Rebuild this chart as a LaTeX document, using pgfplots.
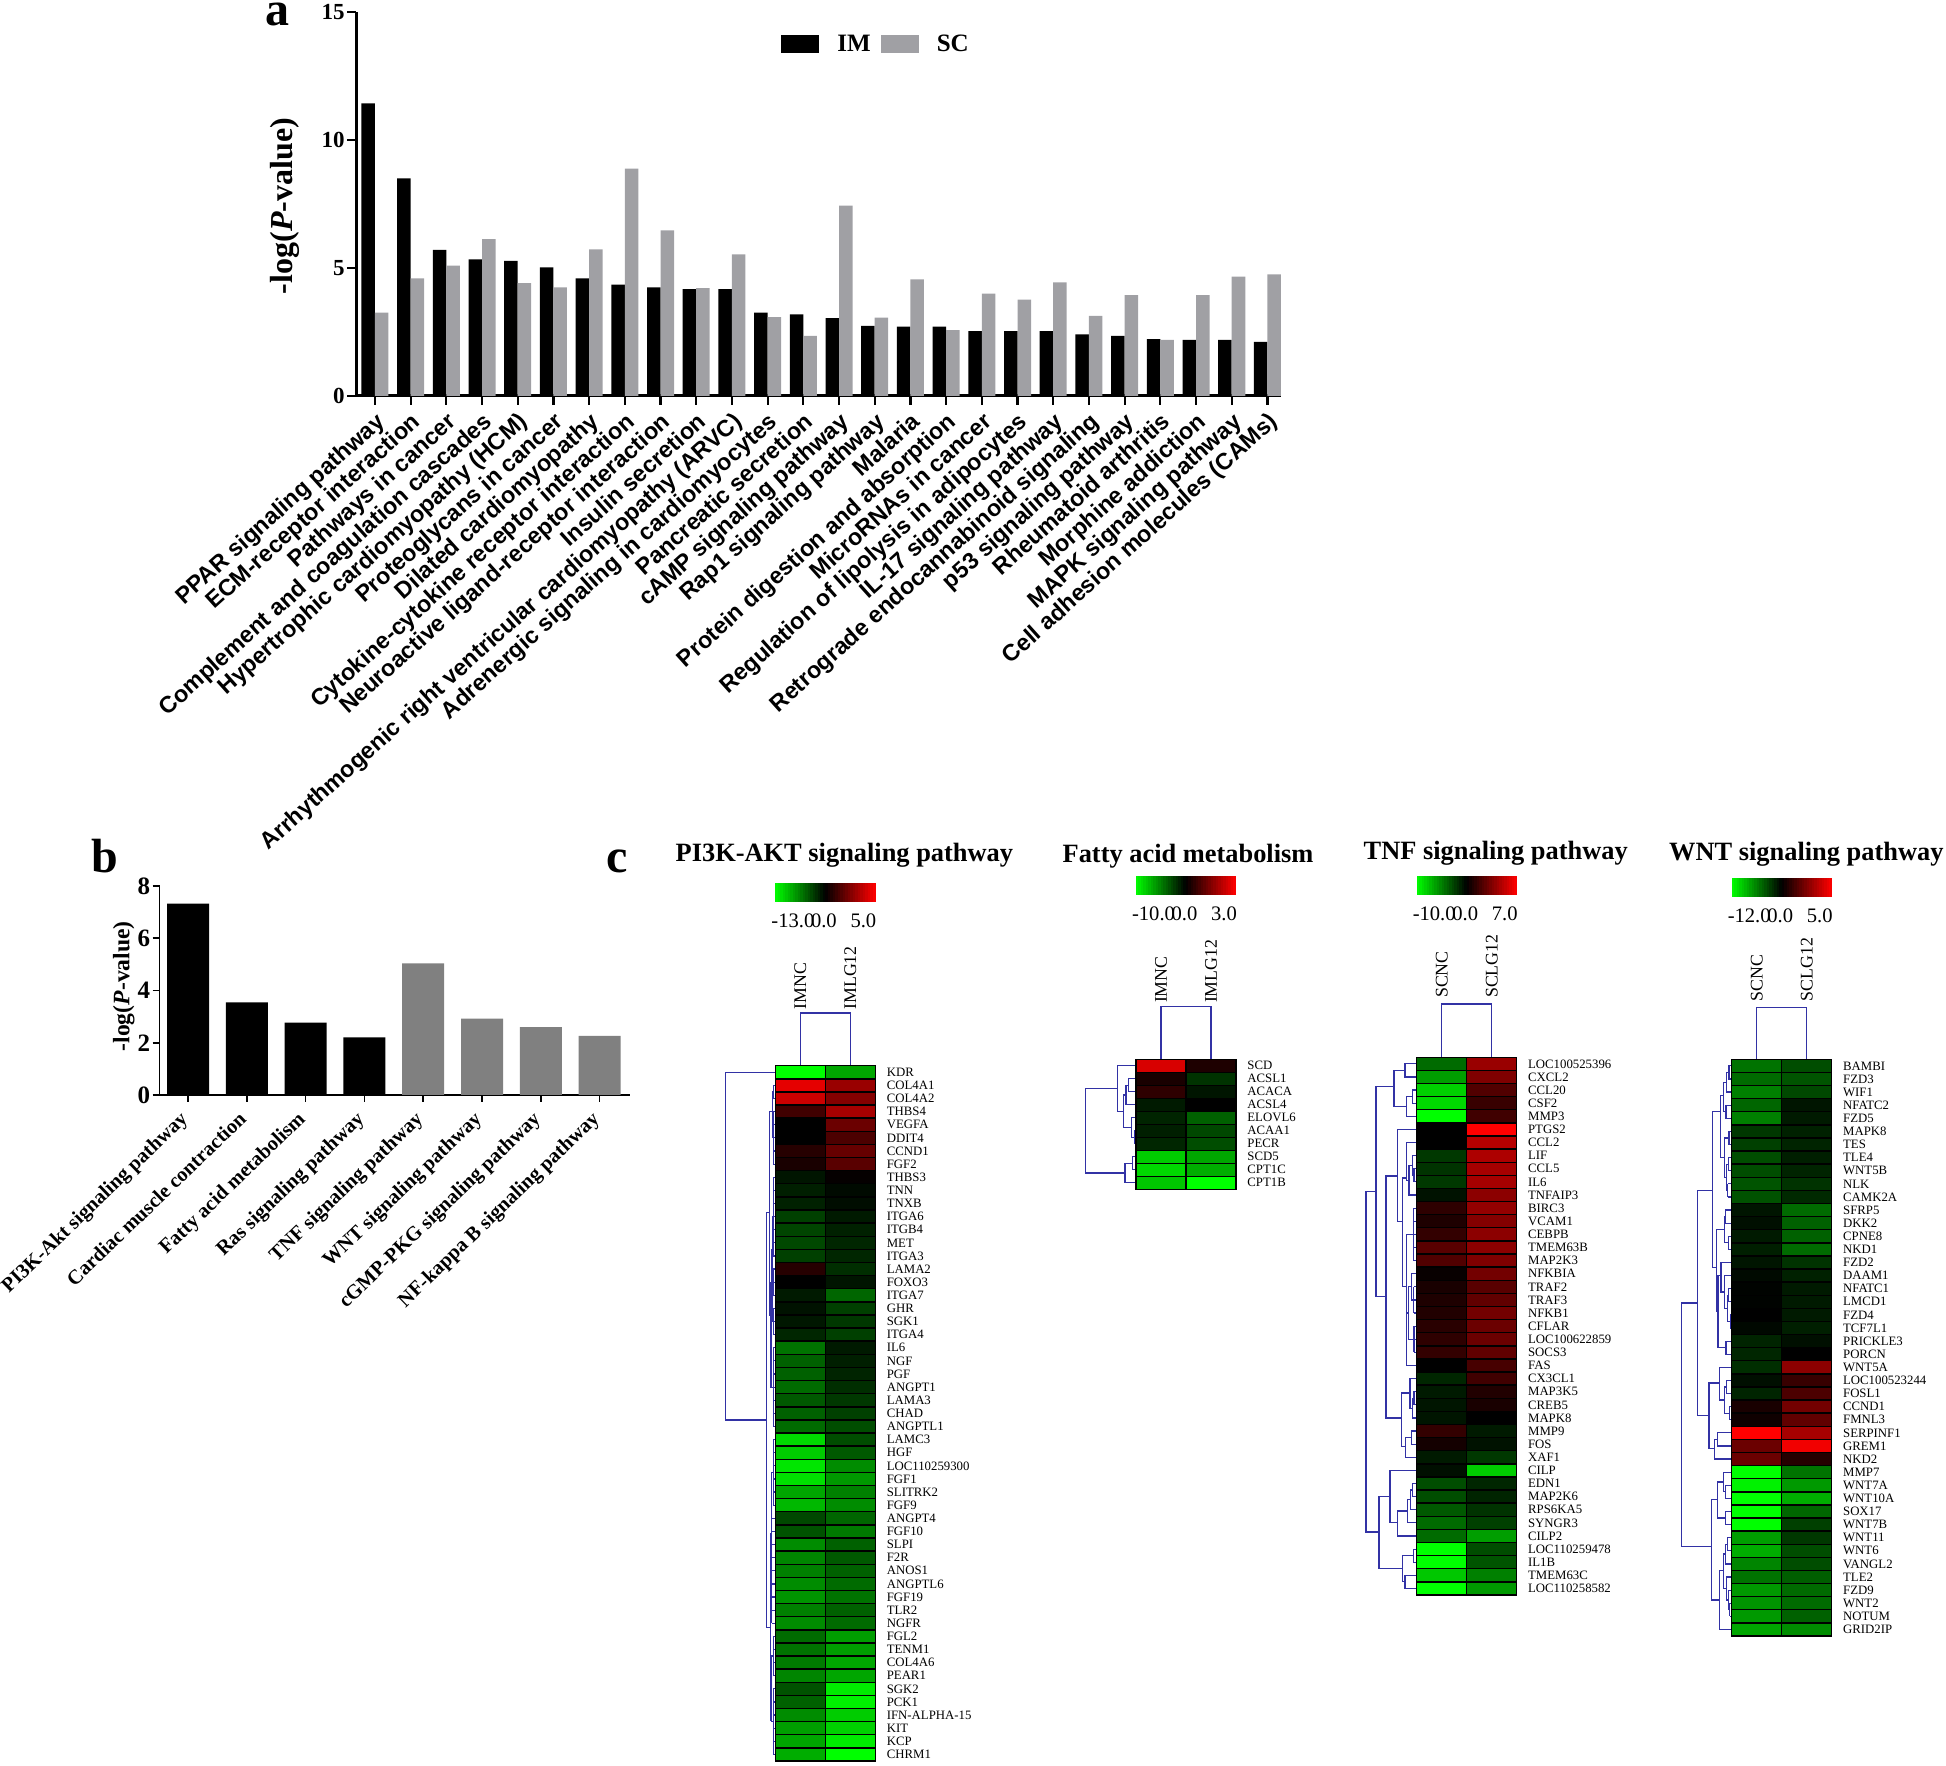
\documentclass[border=0pt]{standalone}
\usepackage{pgfplots}
\pgfplotsset{compat=1.18}
\usepackage{fontspec}
\setmainfont{Liberation Serif}
\newfontfamily\arial{Liberation Sans}
\newcommand\fs[1]{\fontsize{#1}{#1}\selectfont}
\definecolor{den}{RGB}{50,50,165}
\definecolor{barg}{RGB}{160,160,164}
\definecolor{bargb}{RGB}{128,128,128}
\pgfdeclareplotmark{cell}{\pgfpathrectangle{\pgfpoint{-12.5pt}{-3.275pt}}{\pgfpoint{25pt}{6.55pt}}\pgfusepathqfillstroke}
\pgfdeclareplotmark{rampcell}{\pgfpathrectangle{\pgfpoint{-0.72pt}{-4.8pt}}{\pgfpoint{1.44pt}{9.6pt}}\pgfusepathqfill}
\tikzset{
  collab/.style={rotate=90,anchor=west,font=\fs{8.9},inner sep=0pt},
  htitle/.style={font=\bfseries\fs{13.2},inner sep=0pt,yshift=-1.2pt},
}
\pgfplotsset{
  colormap={gkr}{rgb=(0,1,0) rgb=(0,0,0) rgb=(1,0,0)},
  dendro/.style={color=den,line width=0.6pt,forget plot,no markers},
  lg/.style={legend image code/.code={\fill[##1] (0pt,-4.5pt) rectangle (19pt,4.5pt);\fill[white,draw=none,opacity=0] (19pt,0pt) rectangle (26pt,0.1pt);}},
  heat/.style={
    scale only axis,anchor=south west,clip=false,y dir=reverse,
    xmin=0,xmax=100,width=50pt,
    colormap name=gkr,point meta min=-1,point meta max=1,
    axis line style={draw=none},tick style={draw=none},
    xtick=\empty,yticklabel pos=right,
    yticklabel style={font=\fs{6.4},anchor=west,xshift=5.5pt,inner sep=0pt},
  },
  heatcells/.style={only marks,scatter,mark=cell,point meta=explicit,
    scatter/use mapped color={draw=black,fill=mapped color},
    mark options={line width=0.7pt},forget plot},
}
\newcommand\U[5]{\addplot[dendro] coordinates {(-#1,#3)(-#2,#3)(-#2,#4)(-#5,#4)};}
\newcommand\R[3]{\addplot[dendro] coordinates {(-#1,#2)(-#1,#3)};%
  \pgfplotsinvokeforeach{#2,...,#3}{\addplot[dendro] coordinates {(0,##1)(-#1,##1)};}}
\newcommand\cb[3]{%
\begin{axis}[at={(#1pt,#2pt)},anchor=south west,scale only axis,width=50pt,height=9.6pt,
  xmin=-1,xmax=1,ymin=-1,ymax=1,clip=false,colormap name=gkr,point meta min=-1,point meta max=1,
  axis line style={draw=none},tick style={draw=none},ytick=\empty,
  xtick={-0.65,-0.03,0.76},xticklabels=#3,
  xticklabel style={font=\fs{10.3},inner sep=1pt,yshift=-4.5pt}]
\addplot[only marks,scatter,mark=rampcell,point meta=x,forget plot,
  scatter/use mapped color={draw=none,fill=mapped color}] coordinates {
(-0.975,0)(-0.925,0)(-0.875,0)(-0.825,0)(-0.775,0)(-0.725,0)(-0.675,0)(-0.625,0)(-0.575,0)(-0.525,0)
(-0.475,0)(-0.425,0)(-0.375,0)(-0.325,0)(-0.275,0)(-0.225,0)(-0.175,0)(-0.125,0)(-0.075,0)(-0.025,0)
(0.025,0)(0.075,0)(0.125,0)(0.175,0)(0.225,0)(0.275,0)(0.325,0)(0.375,0)(0.425,0)(0.475,0)
(0.525,0)(0.575,0)(0.625,0)(0.675,0)(0.725,0)(0.775,0)(0.825,0)(0.875,0)(0.925,0)(0.975,0)};
\end{axis}}
\begin{document}
\begin{tikzpicture}
\useasboundingbox (0pt,0pt) rectangle (973pt,882.5pt);
% panel letters
\node[anchor=base west,inner sep=0pt,font=\bfseries\fs{24}] at (132.5pt,869.5pt) {a};
\node[anchor=base west,inner sep=0pt,font=\bfseries\fs{24}] at (45.5pt,446pt) {b};
\node[anchor=base west,inner sep=0pt,font=\bfseries\fs{24}] at (303pt,446pt) {c};
% panel a
\begin{axis}[
  at={(178pt,684.5pt)},anchor=south west,scale only axis,width=462.5pt,height=191.8pt,
  ybar=0pt,bar width=6.75pt,clip=false,
  xmin=-0.53,xmax=25.38,ymin=0,ymax=15,
  axis x line=bottom,axis y line=left,
  axis line style={line width=1.5pt,-},
  x axis line style={-},y axis line style={-},
  tick style={black,line width=1.1pt},
  major tick length=4.5pt,tick align=outside,
  ytick={0,5,10,15},xtick={0,...,25},
  /pgf/number format/assume math mode=true,
  yticklabel style={font=\bfseries\fs{11.5},inner sep=1pt},
  xticklabels={PPAR signaling pathway,ECM-receptor interaction,Pathways in cancer,Complement and coagulation cascades,Hypertrophic cardiomyopathy (HCM),Proteoglycans in cancer,Dilated cardiomyopathy,Cytokine-cytokine receptor interaction,Neuroactive ligand-receptor interaction,Insulin secretion,Arrhythmogenic right ventricular cardiomyopathy (ARVC),Adrenergic signaling in cardiomyocytes,Pancreatic secretion,cAMP signaling pathway,Rap1 signaling pathway,Malaria,Protein digestion and absorption,MicroRNAs in cancer,Regulation of lipolysis in adipocytes,IL-17 signaling pathway,Retrograde endocannabinoid signaling,p53 signaling pathway,Rheumatoid arthritis,Morphine addiction,MAPK signaling pathway,Cell adhesion molecules (CAMs)},
  xticklabel style={font=\arial\bfseries\fs{11.65},rotate=42,anchor=north east,inner sep=1pt,yshift=-1pt,xshift=-1pt},
  ylabel={-log(\textit{P}-value)},
  ylabel style={at={(axis description cs:-0.077,0.495)},anchor=center,rotate=0,font=\bfseries\fs{16},inner sep=0pt},
  legend style={at={(0.4595,0.9165)},anchor=west,draw=none,fill=none,font=\bfseries\fs{12.5},inner sep=0pt,
    /tikz/every even column/.append style={column sep=3pt}},
  legend columns=2,
]
\addplot[fill=black,draw=none,lg] coordinates {(0,11.44)(1,8.51)(2,5.71)(3,5.34)(4,5.28)(5,5.03)(6,4.60)(7,4.35)(8,4.25)(9,4.18)(10,4.18)(11,3.26)(12,3.19)(13,3.04)(14,2.74)(15,2.71)(16,2.71)(17,2.54)(18,2.54)(19,2.54)(20,2.41)(21,2.35)(22,2.22)(23,2.19)(24,2.19)(25,2.12)};
\addplot[fill=barg,draw=none,lg] coordinates {(0,3.26)(1,4.60)(2,5.10)(3,6.13)(4,4.41)(5,4.25)(6,5.73)(7,8.89)(8,6.48)(9,4.22)(10,5.54)(11,3.08)(12,2.35)(13,7.44)(14,3.06)(15,4.56)(16,2.58)(17,4.00)(18,3.77)(19,4.44)(20,3.13)(21,3.94)(22,2.19)(23,3.94)(24,4.67)(25,4.76)};
\legend{IM,SC}
\end{axis}
% panel b
\begin{axis}[
  at={(79.75pt,335pt)},anchor=south west,scale only axis,width=235.25pt,height=104.5pt,
  ybar,bar width=21pt,bar shift=0pt,clip=false,
  xmin=-0.485,xmax=7.517,ymin=0,ymax=8,
  axis x line=bottom,axis y line=left,
  x axis line style={-,line width=0.8pt},y axis line style={-,line width=0.8pt},
  tick style={black,line width=0.8pt},
  major tick length=3.5pt,tick align=outside,
  ytick={0,2,4,6,8},xtick={0,...,7},
  /pgf/number format/assume math mode=true,
  yticklabel style={font=\bfseries\fs{12.5},inner sep=1pt},
  xticklabels={PI3K-Akt signaling pathway,Cardiac muscle contraction,Fatty acid metabolism,Ras signaling pathway,TNF signaling pathway,WNT signaling pathway,cGMP-PKG signaling pathway,NF-kappa B signaling pathway},
  xticklabel style={font=\bfseries\fs{10.2},rotate=44,anchor=north east,inner sep=1pt,yshift=1.5pt,xshift=-5pt},
  ylabel={-log(\textit{P}-value)},
  ylabel style={at={(axis description cs:-0.076,0.52)},anchor=center,font=\bfseries\fs{11.8},inner sep=0pt},
]
\addplot[fill=black,draw=none] coordinates {(0,7.33)(1,3.55)(2,2.77)(3,2.21)};
\addplot[fill=bargb,draw=none] coordinates {(4,5.04)(5,2.92)(6,2.60)(7,2.26)};
\end{axis}
% colour scales
\cb{387.7}{431.5}{{-13.0,0.0,5.0}}
\cb{568}{434.85}{{-10.0,0.0,3.0}}
\cb{708.35}{435}{{-10.0,0.0,7.0}}
\cb{865.85}{433.85}{{-12.0,0.0,5.0}}
% PI3K
\begin{axis}[heat,
  at={(387.7pt,2pt)},height=347.65pt,ymin=-0.5,ymax=52.5,
  ytick={0,...,52},
  yticklabels={KDR,COL4A1,COL4A2,THBS4,VEGFA,DDIT4,CCND1,FGF2,THBS3,TNN,TNXB,ITGA6,ITGB4,MET,ITGA3,LAMA2,FOXO3,ITGA7,GHR,SGK1,ITGA4,IL6,NGF,PGF,ANGPT1,LAMA3,CHAD,ANGPTL1,LAMC3,HGF,LOC110259300,FGF1,SLITRK2,FGF9,ANGPT4,FGF10,SLPI,F2R,ANOS1,ANGPTL6,FGF19,TLR2,NGFR,FGL2,TENM1,COL4A6,PEAR1,SGK2,PCK1,IFN-ALPHA-15,KIT,KCP,CHRM1},
]
\addplot[heatcells] table[row sep=\\,meta index=2]{
25 0 -1\\75 0 -0.65\\25 1 0.9\\75 1 0.6\\25 2 0.8\\75 2 0.52\\25 3 0.25\\75 3 0.65\\25 4 0\\75 4 0.42\\
25 5 0\\75 5 0.3\\25 6 0.15\\75 6 0.4\\25 7 0.1\\75 7 0.35\\25 8 -0.08\\75 8 0.02\\25 9 -0.12\\75 9 -0.04\\
25 10 -0.13\\75 10 -0.05\\25 11 -0.25\\75 11 -0.1\\25 12 -0.27\\75 12 -0.13\\25 13 -0.28\\75 13 -0.15\\25 14 -0.25\\75 14 -0.15\\
25 15 0.15\\75 15 -0.18\\25 16 0\\75 16 -0.08\\25 17 -0.1\\75 17 -0.4\\25 18 -0.07\\75 18 -0.25\\25 19 -0.09\\75 19 -0.22\\
25 20 -0.15\\75 20 -0.25\\25 21 -0.45\\75 21 -0.1\\25 22 -0.38\\75 22 -0.12\\25 23 -0.38\\75 23 -0.14\\25 24 -0.42\\75 24 -0.18\\
25 25 -0.35\\75 25 -0.22\\25 26 -0.38\\75 26 -0.25\\25 27 -0.42\\75 27 -0.3\\25 28 -0.85\\75 28 -0.3\\25 29 -0.8\\75 29 -0.35\\
25 30 -0.9\\75 30 -0.55\\25 31 -0.88\\75 31 -0.6\\25 32 -0.65\\75 32 -0.5\\25 33 -0.72\\75 33 -0.55\\25 34 -0.28\\75 34 -0.4\\
25 35 -0.32\\75 35 -0.48\\25 36 -0.55\\75 36 -0.38\\25 37 -0.52\\75 37 -0.35\\25 38 -0.5\\75 38 -0.38\\25 39 -0.55\\75 39 -0.42\\
25 40 -0.58\\75 40 -0.45\\25 41 -0.5\\75 41 -0.38\\25 42 -0.55\\75 42 -0.42\\25 43 -0.42\\75 43 -0.62\\25 44 -0.45\\75 44 -0.62\\
25 45 -0.48\\75 45 -0.65\\25 46 -0.52\\75 46 -0.65\\25 47 -0.32\\75 47 -0.92\\25 48 -0.38\\75 48 -0.95\\25 49 -0.55\\75 49 -0.8\\
25 50 -0.62\\75 50 -0.82\\25 51 -0.65\\75 51 -0.92\\25 52 -0.68\\75 52 -1\\
};
\addplot[dendro] coordinates {(25,-0.5)(25,-4.52)(75,-4.52)(75,-0.5)};
\node[collab] at (axis cs:25,-4.75) {IMNC};
\node[collab] at (axis cs:75,-4.75) {IMLG12};
\node[htitle] at (axis cs:69,-16.76) {PI3K-AKT signaling pathway};
\U{0}{50}{0}{26.5}{8.7}
\U{6}{8.7}{10.7}{42.3}{4.7}
\R{2}{1}{2}\R{2}{3}{7}\U{2}{3}{1.5}{5}{2}
\R{2}{8}{14}\R{2}{15}{17}\R{2}{18}{20}\R{2}{21}{27}
\U{2}{3}{11}{16}{2}\U{3}{3.5}{13.5}{19}{2}\U{3.5}{4.5}{16}{24}{2}
\U{3}{6}{3}{18.5}{4.5}
\R{2}{28}{33}\R{3.7}{34}{42}
\U{2}{3.7}{30.5}{38}{3.7}
\R{2}{43}{46}\R{2}{47}{52}\U{2}{4}{44.5}{49.5}{2}
\U{3.7}{4.7}{35.2}{49.4}{4}
\end{axis}
% Fatty acid
\begin{axis}[heat,
  at={(568pt,287.85pt)},height=65pt,ymin=-0.5,ymax=9.5,
  ytick={0,...,9},
  yticklabels={SCD,ACSL1,ACACA,ACSL4,ELOVL6,ACAA1,PECR,SCD5,CPT1C,CPT1B},
]
\addplot[heatcells] table[row sep=\\,meta index=2]{
25 0 0.85\\75 0 0.12\\25 1 0.1\\75 1 -0.2\\25 2 0.18\\75 2 -0.08\\25 3 -0.1\\75 3 0\\25 4 -0.14\\75 4 -0.38\\
25 5 -0.12\\75 5 -0.28\\25 6 -0.15\\75 6 -0.3\\25 7 -0.8\\75 7 -0.65\\25 8 -0.85\\75 8 -0.68\\25 9 -0.78\\75 9 -1\\
};
\addplot[dendro] coordinates {(25,-0.5)(25,-4.55)(75,-4.55)(75,-0.5)};
\node[collab] at (axis cs:25,-4.8) {IMNC};
\node[collab] at (axis cs:75,-4.8) {IMLG12};
\node[htitle] at (axis cs:52,-16.29) {Fatty acid metabolism};
\U{0}{7.7}{1}{2}{0}\U{7.7}{10}{1.5}{3}{0}\U{0}{1.7}{5}{6}{0}\U{0}{4.3}{4}{5.5}{1.7}
\U{10}{12.7}{2.25}{4.75}{4.3}\U{0}{18.7}{0}{3.5}{12.7}
\U{0}{3.7}{7}{8}{0}\U{3.7}{11}{7.5}{9}{0}\U{18.7}{50.3}{1.75}{8.25}{11}
\end{axis}
% TNF
\begin{axis}[heat,
  at={(708.35pt,85pt)},height=268.85pt,ymin=-0.5,ymax=40.5,
  ytick={0,...,40},
  yticklabels={LOC100525396,CXCL2,CCL20,CSF2,MMP3,PTGS2,CCL2,LIF,CCL5,IL6,TNFAIP3,BIRC3,VCAM1,CEBPB,TMEM63B,MAP2K3,NFKBIA,TRAF2,TRAF3,NFKB1,CFLAR,LOC100622859,SOCS3,FAS,CX3CL1,MAP3K5,CREB5,MAPK8,MMP9,FOS,XAF1,CILP,EDN1,MAP2K6,RPS6KA5,SYNGR3,CILP2,LOC110259478,IL1B,TMEM63C,LOC110258582},
]
\addplot[heatcells] table[row sep=\\,meta index=2]{
25 0 -0.42\\75 0 0.6\\25 1 -0.62\\75 1 0.5\\25 2 -0.82\\75 2 0.32\\25 3 -0.85\\75 3 0.22\\25 4 -1\\75 4 0.25\\
25 5 0\\75 5 1\\25 6 0\\75 6 0.72\\25 7 -0.22\\75 7 0.68\\25 8 -0.2\\75 8 0.65\\25 9 -0.22\\75 9 0.65\\
25 10 -0.07\\75 10 0.55\\25 11 0.18\\75 11 0.58\\25 12 0.12\\75 12 0.52\\25 13 0.2\\75 13 0.55\\25 14 0.35\\75 14 0.55\\
25 15 0.32\\75 15 0.5\\25 16 0.03\\75 16 0.45\\25 17 0.1\\75 17 0.35\\25 18 0.12\\75 18 0.38\\25 19 0.13\\75 19 0.45\\
25 20 0.16\\75 20 0.42\\25 21 0.18\\75 21 0.42\\25 22 0.2\\75 22 0.38\\25 23 0\\75 23 0.28\\25 24 -0.15\\75 24 0.25\\
25 25 -0.1\\75 25 0.13\\25 26 -0.08\\75 26 0.1\\25 27 -0.08\\75 27 0\\25 28 0.2\\75 28 -0.1\\25 29 0.08\\75 29 -0.07\\
25 30 -0.1\\75 30 -0.22\\25 31 -0.06\\75 31 -0.8\\25 32 -0.3\\75 32 -0.15\\25 33 -0.3\\75 33 -0.14\\25 34 -0.35\\75 34 -0.2\\
25 35 -0.42\\75 35 -0.25\\25 36 -0.42\\75 36 -0.62\\25 37 -1\\75 37 -0.3\\25 38 -1\\75 38 -0.33\\25 39 -0.78\\75 39 -0.5\\
25 40 -1\\75 40 -0.6\\
};
\addplot[dendro] coordinates {(25,-0.5)(25,-4.57)(75,-4.57)(75,-0.5)};
\node[collab] at (axis cs:25,-5) {SCNC};
\node[collab] at (axis cs:75,-5) {SCLG12};
\node[htitle] at (axis cs:79,-16.27) {TNF signaling pathway};
\U{40.7}{50.7}{9.75}{35.7}{37.7}
\U{22.7}{40.7}{1.75}{17.75}{30.7}
\U{0}{11.7}{0}{1}{0}\U{0}{4}{2}{3}{0}\U{4}{10}{2.5}{4}{0}\U{11.7}{22.7}{0.5}{3.25}{10}
\U{19.3}{30.7}{8.55}{27}{15}
\U{0}{19.3}{5}{12}{14.3}
\U{0}{2.7}{8}{9}{0}\U{0}{4}{7}{8.5}{2.7}\U{4}{7.7}{7.75}{10}{0}\U{0}{10}{6}{8.9}{7.7}
\R{3}{11}{15}\R{3}{17}{19}\U{0}{5}{16}{18}{3}\R{2.7}{20}{22}\U{5}{8}{17}{21}{2.7}\U{8}{10}{19}{23}{0}
\U{3}{10}{13}{21}{10}\U{10}{14.3}{8.7}{17}{10}
\U{0}{2.7}{25}{26}{0}\U{2.7}{4.3}{25.5}{27}{0}\U{0}{6.7}{24}{26.25}{4.3}
\U{0}{5}{28}{29}{0}\U{5}{11}{28.5}{30}{0}\U{6.7}{15}{25.1}{29.2}{11}
\U{0}{4}{32}{33}{0}\U{4}{6}{32.5}{34}{0}\U{6}{9}{33.2}{35}{0}\U{9}{19}{34.1}{36}{0}\U{0}{26.7}{31}{35}{19}
\U{0}{3.3}{37}{38}{0}\U{0}{11.7}{39}{40}{0}\U{3.3}{14.3}{37.5}{39.5}{11.7}
\U{26.7}{37.7}{33}{38.5}{14.3}
\end{axis}
% WNT
\begin{axis}[heat,
  at={(865.85pt,64.5pt)},height=288.35pt,ymin=-0.5,ymax=43.5,
  ytick={0,...,43},
  yticklabels={BAMBI,FZD3,WIF1,NFATC2,FZD5,MAPK8,TES,TLE4,WNT5B,NLK,CAMK2A,SFRP5,DKK2,CPNE8,NKD1,FZD2,DAAM1,NFATC1,LMCD1,FZD4,TCF7L1,PRICKLE3,PORCN,WNT5A,LOC100523244,FOSL1,CCND1,FMNL3,SERPINF1,GREM1,NKD2,MMP7,WNT7A,WNT10A,SOX17,WNT7B,WNT11,WNT6,VANGL2,TLE2,FZD9,WNT2,NOTUM,GRID2IP},
]
\addplot[heatcells] table[row sep=\\,meta index=2]{
25 0 -0.45\\75 0 -0.3\\25 1 -0.42\\75 1 -0.33\\25 2 -0.5\\75 2 -0.28\\25 3 -0.4\\75 3 -0.08\\25 4 -0.5\\75 4 -0.1\\
25 5 -0.22\\75 5 -0.13\\25 6 -0.25\\75 6 -0.14\\25 7 -0.3\\75 7 -0.12\\25 8 -0.3\\75 8 -0.14\\25 9 -0.33\\75 9 -0.2\\
25 10 -0.32\\75 10 -0.16\\25 11 -0.08\\75 11 -0.42\\25 12 -0.06\\75 12 -0.38\\25 13 -0.1\\75 13 -0.38\\25 14 -0.12\\75 14 -0.42\\
25 15 -0.08\\75 15 -0.2\\25 16 -0.04\\75 16 -0.13\\25 17 -0.01\\75 17 -0.1\\25 18 -0.01\\75 18 -0.1\\25 19 0\\75 19 -0.1\\
25 20 -0.03\\75 20 -0.12\\25 21 -0.14\\75 21 -0.06\\25 22 -0.15\\75 22 0\\25 23 -0.18\\75 23 0.55\\25 24 -0.06\\75 24 0.22\\
25 25 -0.14\\75 25 0.3\\25 26 0.1\\75 26 0.45\\25 27 0.06\\75 27 0.38\\25 28 1\\75 28 0.65\\25 29 0.42\\75 29 0.95\\
25 30 0.42\\75 30 0.15\\25 31 -1\\75 31 -0.45\\25 32 -0.95\\75 32 -0.6\\25 33 -1\\75 33 -0.68\\25 34 -1\\75 34 -0.4\\
25 35 -1\\75 35 -0.25\\25 36 -0.62\\75 36 -0.22\\25 37 -0.68\\75 37 -0.3\\25 38 -0.52\\75 38 -0.3\\25 39 -0.45\\75 39 -0.37\\
25 40 -0.6\\75 40 -0.42\\25 41 -0.58\\75 41 -0.42\\25 42 -0.6\\75 42 -0.38\\25 43 -0.65\\75 43 -0.55\\
};
\addplot[dendro] coordinates {(25,-0.5)(25,-4.47)(75,-4.47)(75,-0.5)};
\node[collab] at (axis cs:25,-4.9) {SCNC};
\node[collab] at (axis cs:75,-4.9) {SCLG12};
\node[htitle] at (axis cs:74.6,-16.35) {WNT signaling pathway};
\U{34}{50}{18.1}{36.7}{20}
\U{19}{34}{9.5}{26.7}{22.7}
\U{0}{2.7}{0}{1}{0}\U{2.7}{5}{0.5}{2}{0}\U{0}{5.7}{3}{4}{0}\U{5}{8}{1.25}{3.5}{5.7}
\U{0}{2.7}{5}{6}{0}\R{3.5}{7}{8}\R{4}{9}{10}\U{3.5}{5}{7.5}{9.5}{4}\U{2.7}{7}{5.5}{8.5}{5}\U{8}{11}{2.25}{7}{7}
\U{0}{6}{11}{12}{0}\U{0}{3.3}{13}{14}{0}\U{6}{7}{11.5}{13.5}{3.3}
\R{1.5}{19}{20}\U{0}{3.3}{17}{18}{0}\U{3.3}{4.3}{17.5}{19.5}{1.5}\U{0}{7}{16}{18.5}{4.3}\U{0}{10.7}{15}{17.25}{7}\U{0}{5.7}{21}{22}{0}
\U{10.7}{13.7}{16}{21.5}{5.7}\U{7}{15}{12.5}{18.75}{13.7}\U{11}{19}{3.5}{15.4}{15}
\U{0}{5}{24}{25}{0}\U{0}{2}{26}{27}{0}\U{5}{7}{24.5}{26.5}{2}\U{0}{12.3}{23}{25.5}{7}
\U{0}{14}{28}{29}{0}\U{14}{17.3}{28.5}{30}{0}\U{12.3}{22.7}{24.2}{29.2}{17.3}
\U{0}{6}{32}{33}{0}\U{0}{8.3}{31}{32.5}{6}\U{0}{6}{34}{35}{0}\U{8.3}{14}{31.75}{34.5}{6}
\U{0}{4}{36}{37}{0}\U{4}{6}{36.5}{38}{0}\R{2}{41}{42}\U{0}{3}{40}{41.5}{2}\U{0}{5}{39}{40.75}{3}\U{6}{8}{37.25}{39.9}{5}\U{8}{12.3}{38.5}{43}{0}
\U{14}{20}{33.1}{40.75}{12.3}
\end{axis}
\end{tikzpicture}
\end{document}
